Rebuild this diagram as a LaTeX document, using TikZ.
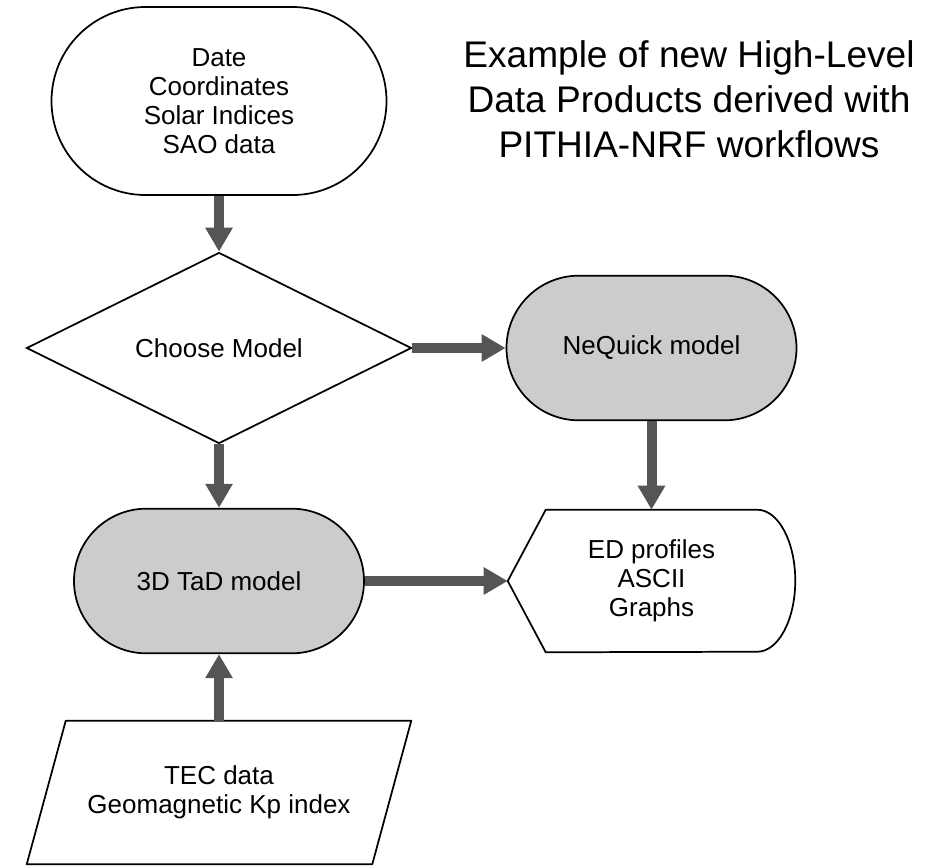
\documentclass[tikz,border=0pt]{standalone}
\usepackage{fontspec}
\setmainfont{Liberation Sans}
\usetikzlibrary{arrows.meta, shapes.geometric, shapes.misc, positioning}
\definecolor{arrowgray}{RGB}{85,85,85}
\definecolor{modelgray}{RGB}{204,204,204}

\begin{document}
\begin{tikzpicture}[x=0.75pt, y=-0.75pt,
pillnode/.style={rounded rectangle, draw=black, line width=1.3pt, font=\fontsize{19.5pt}{21.75pt}\selectfont, align=center, inner sep=0pt},
modelnode/.style={pillnode, fill=modelgray, minimum width=217.5pt, minimum height=108.5pt},
choicenode/.style={diamond, draw=black, line width=1.3pt, aspect=2, inner sep=0pt, minimum width=288.75pt, minimum height=143.25pt, font=\fontsize{19.5pt}{21.75pt}\selectfont},
boxnode/.style={rectangle, inner sep=0pt, align=center, font=\fontsize{19.5pt}{21.75pt}\selectfont},
flow/.style={-{Triangle[width=19.5pt, length=18pt]}, line width=7.5pt, draw=arrowgray},
]
\useasboundingbox (0,0) rectangle (940,865);

%Nodes
\node[pillnode, minimum width=251.25pt, minimum height=141pt] (inputs) at (219,101) {Date\\Coordinates\\Solar Indices\\SAO data};
\node[choicenode] (choose) at (219,348) {Choose Model};
\node[modelnode] (nequick) at (651.5,348) {NeQuick model};
\node[modelnode] (tad) at (219,581) {3D TaD model};
\node[boxnode, minimum width=215.25pt, minimum height=106.5pt] (out) at (651.5,581) {ED profiles\\ASCII\\Graphs};
\node[boxnode, minimum width=258.75pt, minimum height=107.25pt] (params) at (219,792.5) {TEC data\\Geomagnetic Kp index};
\node[align=center, font=\fontsize{27.8pt}{33.75pt}\selectfont] (title) at (689,99) {Example of new High-Level\\Data Products derived with\\PITHIA-NRF workflows};

%Outlines
\draw[line width=1.3pt, line join=round] (out.west) -- ([xshift=28.5pt]out.north west) -- ([xshift=-28.5pt]out.north east)
  arc[start angle=90, end angle=-90, x radius=28.5pt, y radius=53.25pt] -- ([xshift=28.5pt]out.south west) -- cycle;
\draw[line width=1.3pt, line join=round] ([xshift=14.625pt]params.north west) -- ([xshift=14.625pt]params.north east)
  -- ([xshift=-14.625pt]params.south east) -- ([xshift=-14.625pt]params.south west) -- cycle;

%Lines
\draw[flow] (inputs.south) -- (choose.north);
\draw[flow] (choose.east) -- (nequick.west);
\draw[flow] (choose.south) -- (tad.north);
\draw[flow] (nequick.south) -- (out.north);
\draw[flow] (tad.east) -- (out.west);
\draw[flow] (params.north) -- (tad.south);

\end{tikzpicture}
\end{document}
